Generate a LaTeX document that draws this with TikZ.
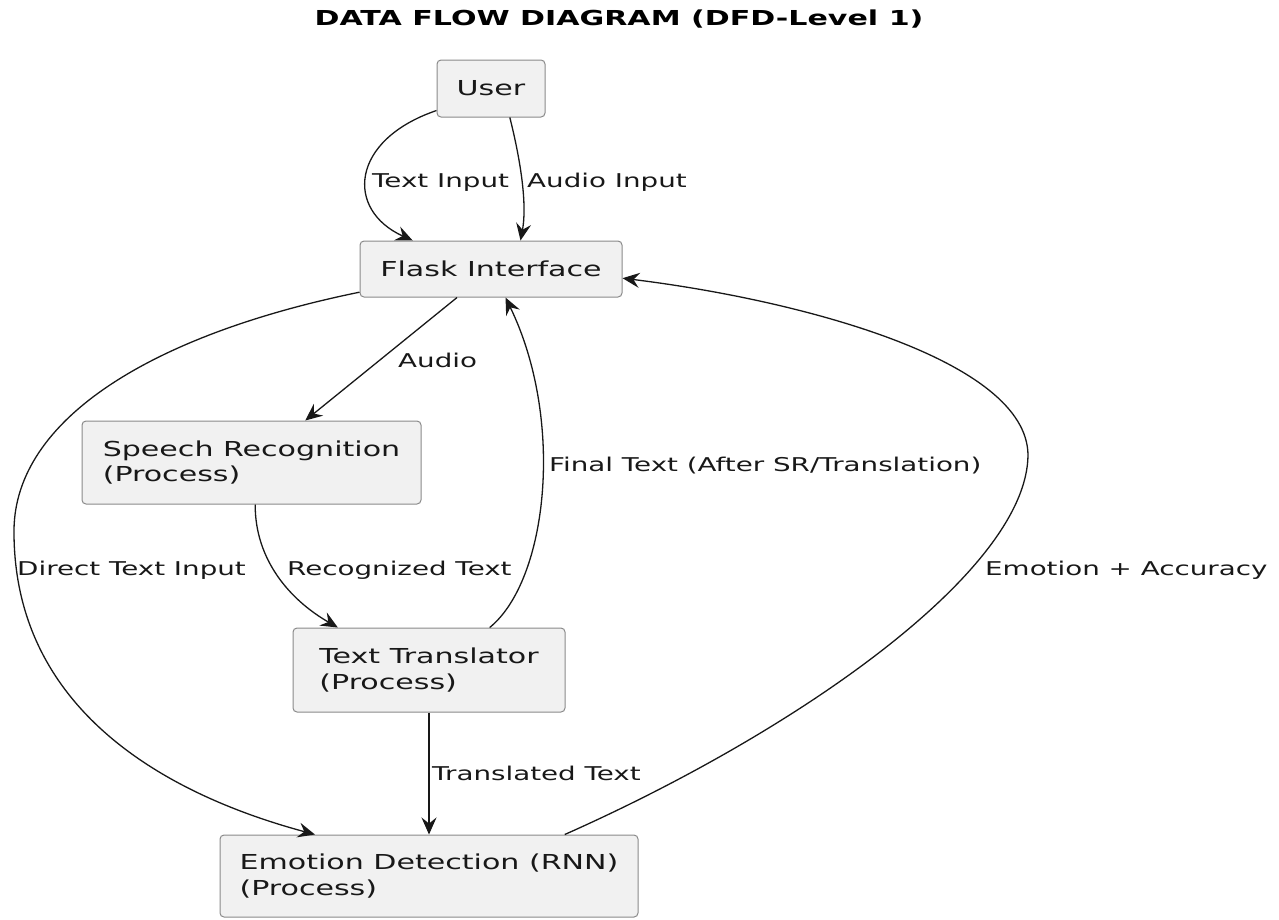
\documentclass[tikz,border=0pt]{standalone}
\usepackage{fontspec}
\setmainfont{DejaVu Sans}[FakeStretch=1.46]
\usetikzlibrary{arrows.meta}
\definecolor{boxfill}{HTML}{F1F1F1}
\definecolor{boxline}{HTML}{8A8A8A}
\definecolor{ink}{HTML}{181818}
\begin{document}
\begin{tikzpicture}[x=1pt, y=-1pt, >={Stealth[length=17pt,width=15pt,inset=6pt]},
		process/.style={rectangle, draw=boxline, line width=1pt, fill=boxfill, rounded corners=4pt, align=left, inner sep=0pt, text=ink, font=\fontsize{20.6}{25.7}\selectfont},
		flow/.style={->, draw=ink, line width=1.3pt},
		flowlabel/.style={anchor=base west, inner sep=0pt, text=ink, font=\fontsize{19}{23}\selectfont}]
				\useasboundingbox (0,0) rectangle (1279,919);
				\node[anchor=base, inner sep=0pt, font=\bfseries\fontsize{20.6}{25}\selectfont] (title) at (619,25) {DATA FLOW DIAGRAM (DFD-Level 1)};
				
				\node[process, minimum width=108pt, minimum height=57pt] (user) at (491,88.5) {User};
				\node[process, minimum width=262pt, minimum height=56pt] (flask) at (491,269) {Flask Interface};
				\node[process, minimum width=339pt, minimum height=83pt] (speech) at (251.5,462.5) {Speech Recognition\\(Process)};
				\node[process, minimum width=272pt, minimum height=84pt] (translator) at (429,670) {Text Translator\\(Process)};
				\node[process, minimum width=418pt, minimum height=82pt] (emotion) at (429,876) {Emotion Detection (RNN)\\(Process)};
				
				\draw[flow] (user.202) .. controls (350,140) and (345,210) .. (flask.160);
				\draw[flow] (user.303) .. controls (518,150) and (528,200) .. (flask.44);
				\draw[flow] (flask.220) -- (speech.38);
				\draw[flow] (flask.190) .. controls (150,335) and (15,420) .. (14,530) .. controls (13,700) and (150,790) .. (emotion.160);
				\draw[flow] (speech.275) .. controls (255,560) and (290,600) .. (translator.155);
				\draw[flow] (translator.35) .. controls (548,580) and (565,420) .. (flask.297);
				\draw[flow] (emotion.17) .. controls (800,730) and (1027,570) .. (1028,455) .. controls (1027,360) and (800,300) .. (flask.356);
				\draw[flow] (translator) -- (emotion);
				
				\node[flowlabel] (textinput) at (372,187) {Text Input};
				\node[flowlabel] (audioinput) at (527,187) {Audio Input};
				\node[flowlabel] (audio) at (398,367) {Audio};
				\node[flowlabel] (directtext) at (17,575) {Direct Text Input};
				\node[flowlabel] (recognized) at (287,575) {Recognized Text};
				\node[flowlabel] (finaltext) at (549,471) {Final Text (After SR/Translation)};
				\node[flowlabel] (translated) at (432,780) {Translated Text};
				\node[flowlabel] (emoacc) at (985,575) {Emotion + Accuracy};
			\end{tikzpicture}
\end{document}
